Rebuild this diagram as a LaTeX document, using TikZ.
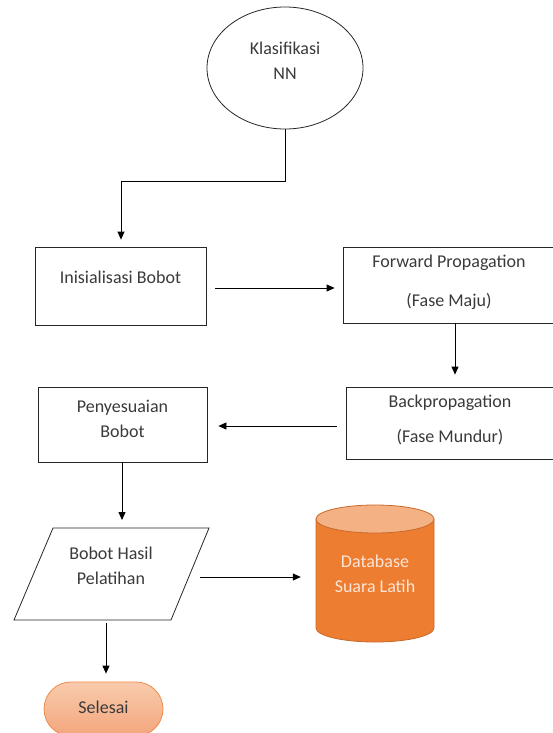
\documentclass[tikz,border=0pt]{standalone}
\usepackage{fontspec}
\setmainfont{Carlito}
\usetikzlibrary{arrows.meta,shapes.geometric,shapes.misc}
\definecolor{txt}{HTML}{3A3A3A}
\definecolor{dbbody}{HTML}{ED7D31}
\definecolor{dbtop}{HTML}{F4B183}
\definecolor{dbline}{HTML}{C9692A}
\definecolor{dbtext}{HTML}{FBE5D6}
\definecolor{endtop}{HTML}{F8CBAD}
\definecolor{endbot}{HTML}{F4A67C}
\definecolor{endline}{HTML}{F08A4B}
\tikzset{
  lbl/.style={font=\fontsize{18}{25}\selectfont, text=txt, inner sep=0pt},
  frame/.style={draw=black!85, line width=0.8pt},
  stepbox/.style={frame, rectangle, inner sep=0pt},
  arr/.style={draw=black, line width=0.8pt, -{Triangle[length=8pt,width=7pt]}},
}
\begin{document}
\begin{tikzpicture}[x=1pt,y=-1pt]
\useasboundingbox (0,0) rectangle (553,733);
\clip (0,0) rectangle (553,733);

% start ellipse
\node[frame, ellipse, minimum width=156, minimum height=122, inner sep=0pt] (start) at (285,68) {};
\node[lbl, align=center] (startT) at (285,60.5) {Klasifikasi\\NN};

% process boxes
\node[stepbox, minimum width=171, minimum height=78] (init) at (120.5,286) {};
\node[lbl] (initT) at (120.5,277) {Inisialisasi Bobot};

\node[stepbox, minimum width=214, minimum height=76] (fwd) at (450,285) {};
\node[lbl] (fwdT1) at (449,263) {Forward Propagation};
\node[lbl] (fwdT2) at (449,301) {(Fase Maju)};

\node[stepbox, minimum width=212, minimum height=72] (back) at (452,423) {};
\node[lbl] (backT1) at (450,403) {Backpropagation};
\node[lbl] (backT2) at (450,437) {(Fase Mundur)};

\node[stepbox, minimum width=169, minimum height=75] (adj) at (122.5,424.5) {};
\node[lbl, align=center] (adjT) at (122.5,419) {Penyesuaian\\Bobot};

% output parallelogram
\coordinate (outTL) at (53,528);
\coordinate (outTR) at (209,528);
\coordinate (outBR) at (171,620);
\coordinate (outBL) at (14,620);
\draw[frame] (outTL) -- (outTR) -- (outBR) -- (outBL) -- cycle;
\node[lbl, align=center] (outT) at (111,566) {Bobot Hasil\\Pelatihan};

% database cylinder
\fill[dbbody] (316,519) -- (316,628) arc[start angle=180, end angle=360, x radius=59pt, y radius=14pt] -- (434,519) -- cycle;
\draw[dbline, line width=0.8pt] (316,519) -- (316,628) arc[start angle=180, end angle=360, x radius=59pt, y radius=14pt] -- (434,519);
\filldraw[fill=dbtop, draw=dbline, line width=0.8pt] (375,519) ellipse[x radius=59pt, y radius=14pt];
\node[rectangle, minimum width=118, minimum height=137, inner sep=0pt] (db) at (375,573.5) {};
\node[lbl, text=dbtext, align=center] (dbT) at (375,573.5) {Database\\Suara Latih};

% terminator
\node[rounded rectangle, draw=endline, line width=0.8pt, top color=endtop, bottom color=endbot,
      minimum width=119, minimum height=54, inner sep=0pt] (end) at (103.5,709) {};
\node[lbl] (endT) at (103.5,707) {Selesai};

% connectors
\coordinate (bend1) at (start.south |- 0,181);
\coordinate (bend2) at (121,181);
\draw[line width=0.8pt] (start.south) -- (bend1) -- (bend2);
\draw[arr] (bend2) -- ([yshift=7pt]init.north -| bend2);

\draw[arr] ([xshift=9pt]init.east |- 0,288) -- ([xshift=-8pt]fwd.west |- 0,288);
\draw[arr] (fwd.south -| 455,0) -- ([yshift=12pt]back.north -| 455,0);
\draw[arr] ([xshift=-9pt]back.west |- 0,426) -- ([xshift=11pt]adj.east |- 0,426);
\draw[arr] (adj.south -| 122,0) -- ([yshift=8pt]outTL -| 122,0);
\coordinate (outR) at (200,577);
\draw[arr, shorten >=15pt] (outR) -- (db.west |- outR);
\coordinate (outS) at (106,623);
\draw[arr] (outS) -- ([yshift=8pt]end.north -| outS);
\end{tikzpicture}
\end{document}
